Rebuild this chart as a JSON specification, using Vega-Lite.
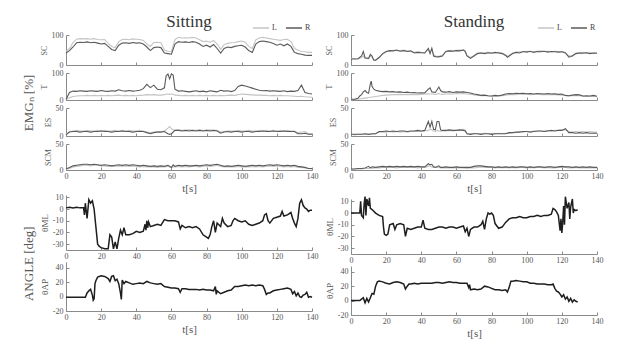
{
"$schema": "https://vega.github.io/schema/vega-lite/v6.json",
"background": "white",
"padding": {"left": 23, "top": 13, "right": 8, "bottom": 4},
"config": {
  "font": "Liberation Serif",
  "view": {"stroke": null},
  "axis": {"domainColor": "#8a8a8a", "tickColor": "#8a8a8a", "labelColor": "#555", "titleColor": "#555", "labelFontSize": 8, "titleFontSize": 8, "titleFontWeight": "normal", "grid": false, "tickSize": -3, "titlePadding": 3, "labelFont": "Liberation Serif", "titleFont": "Liberation Serif"},
  "axisX": {"labelOverlap": false, "labelFlush": false, "labelPadding": 5},
  "axisY": {"labelPadding": 6},
  "title": {"font": "Liberation Serif", "fontWeight": "normal", "color": "#444"},
  "legend": {"direction": "horizontal", "orient": "none", "legendX": 186, "legendY": -16, "symbolType": "stroke", "symbolSize": 260, "symbolStrokeWidth": 1.5, "labelFontSize": 8, "labelFont": "Liberation Serif", "labelColor": "#444", "labelOffset": 2, "columnPadding": 5, "padding": 0, "title": null}
},
"datasets": {
"sitSC": [{"t":0,"L":45,"R":40},{"t":2,"L":55,"R":48},{"t":4,"L":75,"R":60},{"t":6,"L":86,"R":74},{"t":8,"L":88,"R":76},{"t":10,"L":87,"R":75},{"t":12,"L":88,"R":77},{"t":14,"L":86,"R":74},{"t":16,"L":88,"R":76},{"t":18,"L":85,"R":73},{"t":20,"L":84,"R":70},{"t":22,"L":85,"R":72},{"t":24,"L":72,"R":62},{"t":26,"L":62,"R":52},{"t":28,"L":58,"R":48},{"t":30,"L":78,"R":66},{"t":32,"L":85,"R":73},{"t":34,"L":86,"R":74},{"t":36,"L":84,"R":72},{"t":38,"L":87,"R":75},{"t":40,"L":86,"R":73},{"t":42,"L":85,"R":74},{"t":44,"L":82,"R":70},{"t":46,"L":70,"R":60},{"t":48,"L":62,"R":48},{"t":50,"L":75,"R":58},{"t":52,"L":76,"R":60},{"t":54,"L":74,"R":58},{"t":56,"L":50,"R":40},{"t":58,"L":46,"R":38},{"t":60,"L":45,"R":36},{"t":62,"L":85,"R":70},{"t":64,"L":92,"R":78},{"t":66,"L":90,"R":76},{"t":68,"L":91,"R":77},{"t":70,"L":90,"R":75},{"t":72,"L":92,"R":78},{"t":74,"L":90,"R":76},{"t":76,"L":84,"R":70},{"t":78,"L":78,"R":62},{"t":80,"L":80,"R":66},{"t":82,"L":76,"R":60},{"t":84,"L":82,"R":68},{"t":86,"L":70,"R":55},{"t":88,"L":52,"R":40},{"t":90,"L":68,"R":55},{"t":92,"L":72,"R":60},{"t":94,"L":74,"R":58},{"t":96,"L":75,"R":62},{"t":98,"L":78,"R":64},{"t":100,"L":80,"R":66},{"t":102,"L":76,"R":60},{"t":104,"L":62,"R":48},{"t":106,"L":55,"R":42},{"t":108,"L":84,"R":70},{"t":110,"L":90,"R":78},{"t":112,"L":92,"R":80},{"t":114,"L":90,"R":78},{"t":116,"L":88,"R":76},{"t":118,"L":86,"R":72},{"t":120,"L":84,"R":66},{"t":122,"L":82,"R":70},{"t":124,"L":85,"R":64},{"t":126,"L":86,"R":70},{"t":128,"L":78,"R":62},{"t":130,"L":55,"R":42},{"t":132,"L":50,"R":38},{"t":134,"L":45,"R":36},{"t":136,"L":44,"R":33},{"t":138,"L":42,"R":32},{"t":140,"L":42,"R":32}],
"sitT": [{"t":0,"L":1,"R":2},{"t":2,"L":8,"R":28},{"t":4,"L":13,"R":33},{"t":6,"L":15,"R":32},{"t":8,"L":16,"R":34},{"t":10,"L":16,"R":33},{"t":12,"L":17,"R":32},{"t":14,"L":16,"R":34},{"t":16,"L":17,"R":33},{"t":18,"L":16,"R":32},{"t":20,"L":17,"R":35},{"t":22,"L":16,"R":33},{"t":24,"L":17,"R":32},{"t":26,"L":16,"R":34},{"t":28,"L":17,"R":33},{"t":30,"L":18,"R":38},{"t":32,"L":16,"R":34},{"t":34,"L":17,"R":33},{"t":36,"L":16,"R":35},{"t":38,"L":17,"R":33},{"t":40,"L":16,"R":34},{"t":42,"L":17,"R":36},{"t":44,"L":18,"R":42},{"t":46,"L":20,"R":58},{"t":48,"L":19,"R":46},{"t":50,"L":20,"R":55},{"t":52,"L":18,"R":40},{"t":54,"L":18,"R":38},{"t":56,"L":20,"R":45},{"t":57,"L":21,"R":90},{"t":58,"L":22,"R":96},{"t":59,"L":21,"R":78},{"t":60,"L":22,"R":97},{"t":61,"L":21,"R":92},{"t":62,"L":18,"R":40},{"t":64,"L":17,"R":33},{"t":66,"L":16,"R":34},{"t":68,"L":17,"R":32},{"t":70,"L":16,"R":30},{"t":72,"L":17,"R":32},{"t":74,"L":16,"R":34},{"t":76,"L":17,"R":31},{"t":78,"L":16,"R":33},{"t":80,"L":17,"R":30},{"t":82,"L":16,"R":34},{"t":84,"L":17,"R":32},{"t":86,"L":16,"R":30},{"t":88,"L":17,"R":36},{"t":90,"L":16,"R":33},{"t":92,"L":17,"R":34},{"t":94,"L":18,"R":31},{"t":96,"L":17,"R":35},{"t":98,"L":20,"R":50},{"t":100,"L":22,"R":55},{"t":102,"L":21,"R":52},{"t":104,"L":20,"R":48},{"t":106,"L":19,"R":44},{"t":108,"L":18,"R":40},{"t":110,"L":18,"R":36},{"t":112,"L":17,"R":34},{"t":114,"L":17,"R":35},{"t":116,"L":16,"R":33},{"t":118,"L":17,"R":34},{"t":120,"L":16,"R":33},{"t":122,"L":17,"R":32},{"t":124,"L":16,"R":34},{"t":126,"L":16,"R":31},{"t":128,"L":15,"R":33},{"t":130,"L":14,"R":32},{"t":132,"L":13,"R":35},{"t":134,"L":14,"R":55},{"t":136,"L":12,"R":28},{"t":138,"L":11,"R":24},{"t":140,"L":10,"R":22}],
"sitES": [{"t":0,"L":3,"R":2},{"t":2,"L":8,"R":7},{"t":4,"L":9,"R":8},{"t":6,"L":10,"R":8},{"t":8,"L":9,"R":7},{"t":10,"L":9,"R":8},{"t":12,"L":10,"R":8},{"t":14,"L":9,"R":7},{"t":16,"L":9,"R":8},{"t":18,"L":10,"R":8},{"t":20,"L":9,"R":9},{"t":22,"L":10,"R":8},{"t":24,"L":9,"R":8},{"t":26,"L":9,"R":7},{"t":28,"L":10,"R":8},{"t":30,"L":9,"R":8},{"t":32,"L":10,"R":9},{"t":34,"L":9,"R":8},{"t":36,"L":10,"R":8},{"t":38,"L":9,"R":7},{"t":40,"L":9,"R":8},{"t":42,"L":10,"R":8},{"t":44,"L":9,"R":8},{"t":46,"L":7,"R":6},{"t":48,"L":6,"R":4},{"t":50,"L":7,"R":6},{"t":52,"L":8,"R":7},{"t":54,"L":8,"R":7},{"t":56,"L":9,"R":8},{"t":58,"L":14,"R":4},{"t":59,"L":17,"R":3},{"t":60,"L":13,"R":4},{"t":62,"L":10,"R":10},{"t":64,"L":11,"R":10},{"t":66,"L":10,"R":9},{"t":68,"L":10,"R":10},{"t":70,"L":11,"R":9},{"t":72,"L":10,"R":10},{"t":74,"L":10,"R":9},{"t":76,"L":11,"R":10},{"t":78,"L":10,"R":9},{"t":80,"L":10,"R":10},{"t":82,"L":11,"R":9},{"t":84,"L":10,"R":10},{"t":86,"L":10,"R":9},{"t":88,"L":7,"R":5},{"t":90,"L":8,"R":7},{"t":92,"L":9,"R":8},{"t":94,"L":9,"R":7},{"t":96,"L":9,"R":8},{"t":98,"L":10,"R":8},{"t":100,"L":9,"R":7},{"t":102,"L":9,"R":8},{"t":104,"L":10,"R":8},{"t":106,"L":9,"R":7},{"t":108,"L":9,"R":8},{"t":110,"L":10,"R":8},{"t":112,"L":9,"R":9},{"t":114,"L":10,"R":8},{"t":116,"L":9,"R":8},{"t":118,"L":10,"R":9},{"t":120,"L":9,"R":8},{"t":122,"L":10,"R":8},{"t":124,"L":9,"R":9},{"t":126,"L":10,"R":8},{"t":128,"L":9,"R":8},{"t":130,"L":9,"R":8},{"t":132,"L":6,"R":4},{"t":134,"L":7,"R":4},{"t":136,"L":8,"R":5},{"t":138,"L":4,"R":3},{"t":140,"L":4,"R":3}],
"sitSCM": [{"t":0,"L":1,"R":2},{"t":2,"L":3,"R":5},{"t":4,"L":6,"R":8},{"t":6,"L":7,"R":9},{"t":8,"L":8,"R":10},{"t":10,"L":9,"R":11},{"t":12,"L":9,"R":11},{"t":14,"L":8,"R":10},{"t":16,"L":9,"R":11},{"t":18,"L":9,"R":10},{"t":20,"L":8,"R":9},{"t":22,"L":8,"R":10},{"t":24,"L":7,"R":9},{"t":26,"L":7,"R":8},{"t":28,"L":7,"R":9},{"t":30,"L":8,"R":10},{"t":32,"L":7,"R":9},{"t":34,"L":8,"R":10},{"t":36,"L":7,"R":9},{"t":38,"L":8,"R":10},{"t":40,"L":7,"R":9},{"t":42,"L":6,"R":8},{"t":44,"L":7,"R":9},{"t":46,"L":6,"R":8},{"t":48,"L":6,"R":7},{"t":50,"L":6,"R":8},{"t":52,"L":5,"R":7},{"t":54,"L":6,"R":8},{"t":56,"L":6,"R":7},{"t":58,"L":7,"R":9},{"t":60,"L":4,"R":5},{"t":61,"L":6,"R":10},{"t":62,"L":6,"R":7},{"t":64,"L":7,"R":9},{"t":66,"L":6,"R":8},{"t":68,"L":7,"R":9},{"t":70,"L":6,"R":8},{"t":72,"L":7,"R":8},{"t":74,"L":7,"R":9},{"t":76,"L":6,"R":8},{"t":78,"L":7,"R":9},{"t":80,"L":8,"R":10},{"t":82,"L":7,"R":9},{"t":84,"L":8,"R":10},{"t":86,"L":9,"R":11},{"t":88,"L":7,"R":9},{"t":90,"L":6,"R":7},{"t":92,"L":6,"R":8},{"t":94,"L":6,"R":7},{"t":96,"L":6,"R":8},{"t":98,"L":7,"R":9},{"t":100,"L":6,"R":8},{"t":102,"L":6,"R":7},{"t":104,"L":6,"R":8},{"t":106,"L":7,"R":9},{"t":108,"L":6,"R":8},{"t":110,"L":7,"R":9},{"t":112,"L":6,"R":8},{"t":114,"L":7,"R":9},{"t":116,"L":8,"R":10},{"t":118,"L":7,"R":9},{"t":120,"L":8,"R":10},{"t":122,"L":7,"R":9},{"t":124,"L":6,"R":8},{"t":126,"L":7,"R":9},{"t":128,"L":6,"R":8},{"t":130,"L":7,"R":9},{"t":132,"L":5,"R":7},{"t":134,"L":5,"R":6},{"t":136,"L":4,"R":5},{"t":138,"L":3,"R":3},{"t":140,"L":2,"R":3}],
"stSC": [{"t":0,"L":22,"R":20},{"t":2,"L":21,"R":20},{"t":4,"L":20,"R":21},{"t":6,"L":25,"R":30},{"t":7,"L":30,"R":45},{"t":8,"L":22,"R":24},{"t":10,"L":21,"R":22},{"t":11,"L":30,"R":35},{"t":12,"L":25,"R":30},{"t":13,"L":16,"R":16},{"t":14,"L":17,"R":16},{"t":16,"L":25,"R":25},{"t":18,"L":36,"R":38},{"t":20,"L":44,"R":45},{"t":22,"L":46,"R":48},{"t":24,"L":49,"R":47},{"t":26,"L":48,"R":50},{"t":28,"L":48,"R":46},{"t":30,"L":50,"R":48},{"t":32,"L":47,"R":45},{"t":34,"L":45,"R":47},{"t":36,"L":42,"R":40},{"t":38,"L":44,"R":42},{"t":40,"L":42,"R":41},{"t":42,"L":41,"R":40},{"t":44,"L":52,"R":55},{"t":45,"L":40,"R":38},{"t":46,"L":54,"R":56},{"t":47,"L":35,"R":30},{"t":48,"L":30,"R":28},{"t":50,"L":29,"R":27},{"t":52,"L":32,"R":30},{"t":54,"L":46,"R":45},{"t":56,"L":48,"R":47},{"t":58,"L":48,"R":46},{"t":60,"L":49,"R":48},{"t":62,"L":50,"R":47},{"t":64,"L":51,"R":50},{"t":65,"L":48,"R":45},{"t":66,"L":32,"R":30},{"t":68,"L":25,"R":22},{"t":70,"L":32,"R":30},{"t":72,"L":40,"R":38},{"t":74,"L":41,"R":40},{"t":76,"L":40,"R":38},{"t":78,"L":42,"R":41},{"t":80,"L":41,"R":39},{"t":82,"L":40,"R":42},{"t":84,"L":42,"R":40},{"t":86,"L":40,"R":38},{"t":88,"L":34,"R":32},{"t":89,"L":29,"R":26},{"t":90,"L":32,"R":30},{"t":92,"L":40,"R":38},{"t":94,"L":43,"R":42},{"t":96,"L":44,"R":40},{"t":98,"L":44,"R":45},{"t":100,"L":46,"R":43},{"t":102,"L":44,"R":46},{"t":104,"L":45,"R":42},{"t":106,"L":46,"R":45},{"t":108,"L":47,"R":44},{"t":110,"L":45,"R":46},{"t":112,"L":46,"R":43},{"t":114,"L":44,"R":45},{"t":116,"L":46,"R":44},{"t":118,"L":45,"R":43},{"t":120,"L":45,"R":44},{"t":122,"L":42,"R":40},{"t":124,"L":30,"R":26},{"t":126,"L":32,"R":30},{"t":128,"L":40,"R":38},{"t":130,"L":41,"R":40},{"t":132,"L":42,"R":39},{"t":134,"L":40,"R":41},{"t":136,"L":41,"R":38},{"t":138,"L":39,"R":40},{"t":140,"L":41,"R":39}],
"stT": [{"t":0,"L":2,"R":3},{"t":2,"L":2,"R":3},{"t":4,"L":3,"R":6},{"t":5,"L":4,"R":15},{"t":6,"L":5,"R":20},{"t":7,"L":6,"R":30},{"t":8,"L":7,"R":35},{"t":9,"L":8,"R":28},{"t":10,"L":9,"R":25},{"t":11,"L":10,"R":60},{"t":11.5,"L":10,"R":70},{"t":12,"L":11,"R":50},{"t":13,"L":12,"R":40},{"t":14,"L":13,"R":36},{"t":16,"L":15,"R":33},{"t":18,"L":17,"R":31},{"t":20,"L":18,"R":32},{"t":22,"L":19,"R":30},{"t":24,"L":20,"R":31},{"t":26,"L":20,"R":29},{"t":28,"L":21,"R":30},{"t":30,"L":20,"R":28},{"t":32,"L":21,"R":29},{"t":34,"L":20,"R":27},{"t":36,"L":21,"R":28},{"t":38,"L":20,"R":26},{"t":40,"L":21,"R":27},{"t":42,"L":22,"R":26},{"t":44,"L":23,"R":40},{"t":45,"L":22,"R":45},{"t":46,"L":22,"R":30},{"t":48,"L":21,"R":28},{"t":50,"L":24,"R":48},{"t":51,"L":22,"R":35},{"t":52,"L":21,"R":30},{"t":54,"L":22,"R":29},{"t":56,"L":23,"R":31},{"t":58,"L":22,"R":28},{"t":60,"L":24,"R":30},{"t":62,"L":23,"R":29},{"t":64,"L":24,"R":30},{"t":66,"L":22,"R":28},{"t":68,"L":21,"R":26},{"t":70,"L":19,"R":22},{"t":72,"L":18,"R":20},{"t":74,"L":16,"R":17},{"t":76,"L":17,"R":18},{"t":78,"L":15,"R":16},{"t":80,"L":14,"R":15},{"t":82,"L":15,"R":17},{"t":84,"L":14,"R":16},{"t":86,"L":16,"R":18},{"t":88,"L":18,"R":22},{"t":90,"L":20,"R":24},{"t":92,"L":21,"R":23},{"t":94,"L":20,"R":25},{"t":96,"L":22,"R":24},{"t":98,"L":21,"R":25},{"t":100,"L":22,"R":23},{"t":102,"L":20,"R":24},{"t":104,"L":21,"R":22},{"t":106,"L":22,"R":24},{"t":108,"L":20,"R":23},{"t":110,"L":21,"R":22},{"t":112,"L":20,"R":24},{"t":114,"L":21,"R":22},{"t":116,"L":20,"R":23},{"t":118,"L":19,"R":21},{"t":120,"L":18,"R":22},{"t":122,"L":16,"R":17},{"t":124,"L":15,"R":16},{"t":126,"L":16,"R":18},{"t":128,"L":17,"R":20},{"t":130,"L":16,"R":19},{"t":132,"L":14,"R":15},{"t":134,"L":13,"R":16},{"t":136,"L":14,"R":15},{"t":138,"L":13,"R":17},{"t":140,"L":12,"R":14}],
"stES": [{"t":0,"L":3,"R":3},{"t":2,"L":2,"R":3},{"t":4,"L":3,"R":3},{"t":6,"L":3,"R":3},{"t":8,"L":3,"R":4},{"t":10,"L":3,"R":3},{"t":12,"L":3,"R":4},{"t":14,"L":4,"R":4},{"t":16,"L":7,"R":8},{"t":18,"L":7,"R":8},{"t":20,"L":7,"R":9},{"t":22,"L":8,"R":8},{"t":24,"L":7,"R":9},{"t":26,"L":8,"R":8},{"t":28,"L":7,"R":9},{"t":30,"L":8,"R":9},{"t":32,"L":7,"R":8},{"t":34,"L":8,"R":9},{"t":36,"L":8,"R":9},{"t":38,"L":8,"R":10},{"t":40,"L":8,"R":9},{"t":42,"L":9,"R":10},{"t":44,"L":10,"R":26},{"t":45,"L":12,"R":16},{"t":46,"L":11,"R":26},{"t":47,"L":9,"R":12},{"t":48,"L":8,"R":11},{"t":49,"L":10,"R":26},{"t":50,"L":9,"R":26},{"t":51,"L":8,"R":11},{"t":52,"L":9,"R":10},{"t":54,"L":9,"R":10},{"t":56,"L":10,"R":11},{"t":58,"L":9,"R":10},{"t":60,"L":10,"R":10},{"t":62,"L":10,"R":11},{"t":64,"L":12,"R":10},{"t":65,"L":11,"R":9},{"t":66,"L":5,"R":4},{"t":68,"L":4,"R":3},{"t":70,"L":5,"R":4},{"t":72,"L":4,"R":4},{"t":74,"L":4,"R":3},{"t":76,"L":5,"R":4},{"t":78,"L":4,"R":4},{"t":80,"L":5,"R":3},{"t":82,"L":4,"R":4},{"t":84,"L":5,"R":4},{"t":86,"L":4,"R":4},{"t":88,"L":5,"R":4},{"t":90,"L":5,"R":6},{"t":92,"L":6,"R":6},{"t":94,"L":6,"R":7},{"t":96,"L":8,"R":7},{"t":98,"L":7,"R":8},{"t":100,"L":8,"R":8},{"t":102,"L":8,"R":7},{"t":104,"L":9,"R":8},{"t":106,"L":8,"R":9},{"t":108,"L":9,"R":9},{"t":110,"L":9,"R":8},{"t":112,"L":10,"R":9},{"t":114,"L":9,"R":10},{"t":116,"L":10,"R":9},{"t":118,"L":10,"R":10},{"t":120,"L":11,"R":10},{"t":122,"L":11,"R":13},{"t":124,"L":8,"R":6},{"t":126,"L":7,"R":6},{"t":128,"L":8,"R":5},{"t":130,"L":7,"R":6},{"t":132,"L":8,"R":5},{"t":134,"L":7,"R":6},{"t":136,"L":8,"R":5},{"t":138,"L":7,"R":5},{"t":140,"L":7,"R":5}],
"stSCM": [{"t":0,"L":1,"R":2},{"t":2,"L":2,"R":2},{"t":4,"L":2,"R":3},{"t":6,"L":2,"R":3},{"t":8,"L":3,"R":4},{"t":10,"L":3,"R":7},{"t":11,"L":4,"R":4},{"t":12,"L":3,"R":6},{"t":14,"L":4,"R":5},{"t":16,"L":4,"R":6},{"t":18,"L":5,"R":7},{"t":20,"L":5,"R":6},{"t":22,"L":5,"R":7},{"t":24,"L":5,"R":6},{"t":26,"L":4,"R":7},{"t":28,"L":5,"R":6},{"t":30,"L":5,"R":7},{"t":32,"L":5,"R":6},{"t":34,"L":5,"R":7},{"t":36,"L":5,"R":6},{"t":38,"L":4,"R":7},{"t":40,"L":5,"R":6},{"t":42,"L":5,"R":6},{"t":44,"L":7,"R":12},{"t":45,"L":8,"R":10},{"t":46,"L":6,"R":11},{"t":47,"L":5,"R":6},{"t":48,"L":5,"R":5},{"t":50,"L":5,"R":8},{"t":51,"L":4,"R":5},{"t":52,"L":4,"R":5},{"t":54,"L":4,"R":6},{"t":56,"L":4,"R":5},{"t":58,"L":4,"R":5},{"t":60,"L":4,"R":6},{"t":62,"L":4,"R":5},{"t":64,"L":4,"R":5},{"t":66,"L":3,"R":5},{"t":68,"L":4,"R":5},{"t":70,"L":4,"R":7},{"t":72,"L":5,"R":8},{"t":74,"L":6,"R":8},{"t":76,"L":5,"R":7},{"t":78,"L":5,"R":6},{"t":80,"L":5,"R":6},{"t":82,"L":4,"R":5},{"t":84,"L":5,"R":6},{"t":86,"L":4,"R":5},{"t":88,"L":5,"R":6},{"t":90,"L":4,"R":5},{"t":92,"L":5,"R":6},{"t":94,"L":4,"R":5},{"t":96,"L":5,"R":6},{"t":98,"L":5,"R":6},{"t":100,"L":4,"R":5},{"t":102,"L":5,"R":6},{"t":104,"L":4,"R":5},{"t":106,"L":5,"R":6},{"t":108,"L":5,"R":6},{"t":110,"L":4,"R":5},{"t":112,"L":5,"R":6},{"t":114,"L":4,"R":6},{"t":116,"L":4,"R":5},{"t":118,"L":5,"R":6},{"t":120,"L":5,"R":7},{"t":122,"L":5,"R":6},{"t":124,"L":4,"R":6},{"t":126,"L":4,"R":5},{"t":128,"L":5,"R":6},{"t":130,"L":4,"R":5},{"t":132,"L":4,"R":6},{"t":134,"L":4,"R":5},{"t":136,"L":4,"R":6},{"t":138,"L":4,"R":5},{"t":140,"L":4,"R":5}],
"sitML": [{"t":0,"v":1},{"t":2,"v":1.5},{"t":4,"v":1},{"t":6,"v":1.5},{"t":8,"v":1},{"t":10,"v":1},{"t":10.5,"v":-5},{"t":11,"v":5},{"t":12,"v":-8},{"t":13,"v":8},{"t":14,"v":5},{"t":15,"v":7},{"t":16,"v":0},{"t":17,"v":-15},{"t":18,"v":-30},{"t":19,"v":-32},{"t":20,"v":-33},{"t":22,"v":-34},{"t":24,"v":-34},{"t":25,"v":-22},{"t":26,"v":-24},{"t":27,"v":-34},{"t":28,"v":-28},{"t":29,"v":-34},{"t":30,"v":-25},{"t":31,"v":-18},{"t":32,"v":-22},{"t":33,"v":-16},{"t":34,"v":-22},{"t":36,"v":-22},{"t":38,"v":-21},{"t":40,"v":-19},{"t":42,"v":-20},{"t":44,"v":-19},{"t":45,"v":-13},{"t":45.5,"v":-18},{"t":46,"v":-10},{"t":46.5,"v":-16},{"t":47,"v":-11},{"t":48,"v":-15},{"t":50,"v":-14},{"t":52,"v":-13},{"t":54,"v":-14},{"t":56,"v":-9},{"t":58,"v":-10},{"t":60,"v":-10},{"t":62,"v":-10},{"t":64,"v":-11},{"t":65,"v":-17},{"t":66,"v":-14},{"t":68,"v":-16},{"t":70,"v":-15},{"t":72,"v":-16},{"t":74,"v":-15},{"t":76,"v":-17},{"t":78,"v":-22},{"t":80,"v":-24},{"t":81,"v":-25},{"t":82,"v":-22},{"t":83,"v":-15},{"t":84,"v":-10},{"t":85,"v":-20},{"t":86,"v":-12},{"t":88,"v":-15},{"t":89,"v":-8},{"t":90,"v":-12},{"t":92,"v":-15},{"t":94,"v":-14},{"t":95,"v":-10},{"t":96,"v":-8},{"t":98,"v":-10},{"t":100,"v":-11},{"t":102,"v":-10},{"t":104,"v":-13},{"t":106,"v":-14},{"t":108,"v":-13},{"t":110,"v":-12},{"t":112,"v":-10},{"t":113,"v":-5},{"t":114,"v":-4},{"t":115,"v":-10},{"t":116,"v":-12},{"t":118,"v":-8},{"t":120,"v":-7},{"t":122,"v":-6},{"t":123,"v":-2},{"t":124,"v":-6},{"t":126,"v":-5},{"t":128,"v":-3},{"t":129,"v":-8},{"t":130,"v":-12},{"t":131,"v":-15},{"t":132,"v":-8},{"t":133,"v":5},{"t":134,"v":8},{"t":135,"v":3},{"t":136,"v":1},{"t":137,"v":0},{"t":138,"v":-2},{"t":139,"v":-1},{"t":140,"v":-1}],
"sitAP": [{"t":0,"v":-1},{"t":4,"v":-1},{"t":8,"v":-1},{"t":11,"v":-1},{"t":12,"v":5},{"t":13,"v":8},{"t":14,"v":10},{"t":15,"v":2},{"t":15.5,"v":-5},{"t":16,"v":-3},{"t":16.5,"v":18},{"t":17,"v":22},{"t":18,"v":27},{"t":20,"v":29},{"t":22,"v":28},{"t":24,"v":25},{"t":25,"v":21},{"t":26,"v":28},{"t":27,"v":29},{"t":28,"v":22},{"t":29,"v":24},{"t":30,"v":18},{"t":31,"v":5},{"t":31.5,"v":-4},{"t":32,"v":23},{"t":33,"v":18},{"t":34,"v":21},{"t":36,"v":19},{"t":38,"v":17},{"t":40,"v":18},{"t":42,"v":19},{"t":44,"v":18},{"t":46,"v":21},{"t":48,"v":19},{"t":50,"v":18},{"t":52,"v":17},{"t":54,"v":18},{"t":56,"v":14},{"t":58,"v":13},{"t":60,"v":12},{"t":62,"v":12},{"t":64,"v":11},{"t":65,"v":6},{"t":66,"v":11},{"t":68,"v":11},{"t":70,"v":10},{"t":72,"v":10},{"t":74,"v":10},{"t":76,"v":9},{"t":78,"v":10},{"t":80,"v":9},{"t":82,"v":9},{"t":84,"v":8},{"t":85,"v":14},{"t":85.5,"v":3},{"t":86,"v":8},{"t":88,"v":4},{"t":90,"v":6},{"t":92,"v":8},{"t":94,"v":9},{"t":96,"v":14},{"t":98,"v":14},{"t":100,"v":15},{"t":102,"v":16},{"t":104,"v":15},{"t":106,"v":16},{"t":108,"v":15},{"t":110,"v":16},{"t":112,"v":15},{"t":113,"v":10},{"t":114,"v":3},{"t":115,"v":5},{"t":116,"v":5},{"t":118,"v":8},{"t":120,"v":9},{"t":122,"v":10},{"t":124,"v":11},{"t":126,"v":12},{"t":128,"v":10},{"t":129,"v":4},{"t":130,"v":7},{"t":131,"v":1},{"t":132,"v":5},{"t":133,"v":0},{"t":134,"v":-1},{"t":135,"v":2},{"t":136,"v":3},{"t":137,"v":6},{"t":138,"v":-1},{"t":139,"v":0},{"t":140,"v":-1}],
"stML": [{"t":0,"v":0},{"t":5,"v":0},{"t":5.5,"v":10},{"t":6,"v":-2},{"t":7,"v":-4},{"t":7.5,"v":8},{"t":8,"v":14},{"t":8.5,"v":-2},{"t":9,"v":12},{"t":10,"v":6},{"t":10.5,"v":13},{"t":11,"v":4},{"t":12,"v":3},{"t":14,"v":0},{"t":16,"v":-2},{"t":18,"v":-3},{"t":18.5,"v":-12},{"t":19,"v":-18},{"t":20,"v":-19},{"t":21,"v":-18},{"t":22,"v":-10},{"t":24,"v":-9},{"t":25,"v":-14},{"t":26,"v":-10},{"t":28,"v":-9},{"t":30,"v":-10},{"t":31,"v":-20},{"t":32,"v":-13},{"t":34,"v":-14},{"t":36,"v":-13},{"t":38,"v":-12},{"t":40,"v":-12},{"t":41,"v":-6},{"t":42,"v":-13},{"t":44,"v":-14},{"t":46,"v":-14},{"t":48,"v":-13},{"t":50,"v":-12},{"t":52,"v":-12},{"t":54,"v":-13},{"t":56,"v":-12},{"t":58,"v":-12},{"t":60,"v":-13},{"t":62,"v":-12},{"t":64,"v":-11},{"t":65,"v":-16},{"t":66,"v":-13},{"t":67,"v":-20},{"t":68,"v":-14},{"t":70,"v":-12},{"t":72,"v":-12},{"t":74,"v":-10},{"t":75,"v":-7},{"t":76,"v":-14},{"t":77,"v":-5},{"t":78,"v":0},{"t":79,"v":-1},{"t":80,"v":0},{"t":81,"v":-2},{"t":82,"v":-9},{"t":84,"v":-13},{"t":86,"v":-12},{"t":88,"v":-8},{"t":90,"v":-5},{"t":92,"v":-4},{"t":94,"v":-4},{"t":96,"v":-3},{"t":98,"v":-4},{"t":100,"v":-4},{"t":102,"v":-3},{"t":104,"v":-3},{"t":106,"v":-2},{"t":108,"v":-3},{"t":110,"v":-2},{"t":112,"v":-2},{"t":114,"v":-1},{"t":115,"v":4},{"t":116,"v":3},{"t":117,"v":1},{"t":118,"v":-2},{"t":119,"v":-15},{"t":119.5,"v":-5},{"t":120,"v":-17},{"t":120.5,"v":-8},{"t":121,"v":6},{"t":121.5,"v":-10},{"t":122,"v":14},{"t":123,"v":4},{"t":124,"v":9},{"t":124.5,"v":-5},{"t":125,"v":5},{"t":126,"v":12},{"t":126.5,"v":0},{"t":127,"v":3},{"t":128,"v":2},{"t":129,"v":3}],
"stAP": [{"t":0,"v":0},{"t":5,"v":0},{"t":6,"v":2},{"t":7,"v":4},{"t":8,"v":-3},{"t":9,"v":3},{"t":10,"v":-2},{"t":11,"v":4},{"t":12,"v":10},{"t":13,"v":9},{"t":14,"v":20},{"t":15,"v":26},{"t":16,"v":27},{"t":18,"v":26},{"t":20,"v":24},{"t":22,"v":23},{"t":24,"v":25},{"t":26,"v":26},{"t":28,"v":25},{"t":30,"v":23},{"t":31,"v":16},{"t":32,"v":20},{"t":33,"v":23},{"t":34,"v":23},{"t":36,"v":24},{"t":38,"v":23},{"t":40,"v":24},{"t":42,"v":24},{"t":44,"v":24},{"t":46,"v":24},{"t":48,"v":25},{"t":50,"v":25},{"t":52,"v":24},{"t":54,"v":25},{"t":56,"v":26},{"t":58,"v":25},{"t":60,"v":25},{"t":62,"v":24},{"t":64,"v":24},{"t":66,"v":24},{"t":67,"v":18},{"t":67.5,"v":22},{"t":68,"v":15},{"t":70,"v":16},{"t":72,"v":15},{"t":74,"v":16},{"t":76,"v":20},{"t":78,"v":19},{"t":80,"v":17},{"t":82,"v":15},{"t":84,"v":15},{"t":86,"v":14},{"t":88,"v":15},{"t":89,"v":12},{"t":90,"v":18},{"t":91,"v":27},{"t":92,"v":27},{"t":94,"v":28},{"t":96,"v":27},{"t":98,"v":26},{"t":100,"v":26},{"t":102,"v":24},{"t":104,"v":24},{"t":106,"v":23},{"t":108,"v":23},{"t":110,"v":23},{"t":112,"v":22},{"t":114,"v":22},{"t":115,"v":23},{"t":116,"v":17},{"t":117,"v":13},{"t":118,"v":12},{"t":119,"v":9},{"t":120,"v":5},{"t":121,"v":8},{"t":122,"v":2},{"t":123,"v":5},{"t":124,"v":-1},{"t":125,"v":3},{"t":126,"v":-2},{"t":127,"v":1},{"t":128,"v":-1},{"t":129,"v":-2}]
},
"spacing": 7,
"resolve": {"scale": {"color": "independent"}, "legend": {"color": "independent"}},
"hconcat": [
 {
  "spacing": 0,
  "vconcat": [
   {
    "bounds": "flush", "spacing": 8,
    "title": {"text": "EMGₙ [%]", "orient": "left", "anchor": "middle", "fontSize": 13, "offset": 4, "color": "#555"},
    "vconcat": [
     {"width": 246, "height": 30, "data": {"name": "sitSC"},
      "title": {"text": "Sitting", "fontSize": 17, "anchor": "middle", "offset": 5, "dy": 5, "color": "#333"},
      "encoding": {"x": {"field": "t", "type": "quantitative", "scale": {"domain": [0, 140]}, "axis": {"values": [0,20,40,60,80,100,120,140], "labels": false, "title": null}}},
      "layer": [
       {"mark": {"type": "line", "strokeWidth": 1.1}, "encoding": {"y": {"field": "L", "type": "quantitative", "scale": {"domain": [0, 100]}, "axis": {"values": [0,50,100], "title": "SC"}}, "color": {"datum": "L", "type": "nominal", "scale": {"domain": ["L","R"], "range": ["#c4c4c4","#5a5a5a"]}}}},
       {"mark": {"type": "line", "strokeWidth": 1.1}, "encoding": {"y": {"field": "R", "type": "quantitative", "title": "SC"}, "color": {"datum": "R", "type": "nominal"}}}
      ]},
     {"width": 246, "height": 27, "data": {"name": "sitT"},
      "encoding": {"x": {"field": "t", "type": "quantitative", "scale": {"domain": [0, 140]}, "axis": {"values": [0,20,40,60,80,100,120,140], "labels": false, "title": null}}},
      "layer": [
       {"mark": {"type": "line", "strokeWidth": 1.1, "color": "#c4c4c4"}, "encoding": {"y": {"field": "L", "type": "quantitative", "scale": {"domain": [0, 100]}, "axis": {"values": [0,50,100], "title": "T"}}}},
       {"mark": {"type": "line", "strokeWidth": 1.1, "color": "#5a5a5a"}, "encoding": {"y": {"field": "R", "type": "quantitative", "title": "T"}}}
      ]},
     {"width": 246, "height": 28, "data": {"name": "sitES"},
      "encoding": {"x": {"field": "t", "type": "quantitative", "scale": {"domain": [0, 140]}, "axis": {"values": [0,20,40,60,80,100,120,140], "labels": false, "title": null}}},
      "layer": [
       {"mark": {"type": "line", "strokeWidth": 1.1, "color": "#c4c4c4"}, "encoding": {"y": {"field": "L", "type": "quantitative", "scale": {"domain": [0, 50]}, "axis": {"values": [0,50], "title": "ES"}}}},
       {"mark": {"type": "line", "strokeWidth": 1.1, "color": "#5a5a5a"}, "encoding": {"y": {"field": "R", "type": "quantitative", "title": "ES"}}}
      ]},
     {"width": 246, "height": 26, "data": {"name": "sitSCM"},
      "encoding": {"x": {"field": "t", "type": "quantitative", "scale": {"domain": [0, 140]}, "axis": {"values": [0,20,40,60,80,100,120,140], "labelOverlap": false, "title": "t[s]", "titleFontSize": 11, "titlePadding": 2}}},
      "layer": [
       {"mark": {"type": "line", "strokeWidth": 1.1, "color": "#c4c4c4"}, "encoding": {"y": {"field": "L", "type": "quantitative", "scale": {"domain": [0, 50]}, "axis": {"values": [0,50], "title": "SCM"}}}},
       {"mark": {"type": "line", "strokeWidth": 1.1, "color": "#5a5a5a"}, "encoding": {"y": {"field": "R", "type": "quantitative", "title": "SCM"}}}
      ]}
    ]
   },
   {
    "bounds": "flush", "spacing": 12,
    "title": {"text": "ANGLE [deg]", "orient": "left", "anchor": "middle", "fontSize": 13, "offset": 4, "color": "#555"},
    "vconcat": [
     {"width": 246, "height": 55, "data": {"name": "sitML"},
      "mark": {"type": "line", "strokeWidth": 1.5, "color": "#1e1e1e"},
      "encoding": {"x": {"field": "t", "type": "quantitative", "scale": {"domain": [0, 140]}, "axis": {"values": [0,20,40,60,80,100,120,140], "title": null}}, "y": {"field": "v", "type": "quantitative", "scale": {"domain": [-35, 12]}, "axis": {"values": [-30,-20,-10,0,10], "title": "θML", "titleFontSize": 9, "labelExpr": "'' + datum.value"}}}},
     {"width": 246, "height": 49, "data": {"name": "sitAP"},
      "mark": {"type": "line", "strokeWidth": 1.5, "color": "#1e1e1e"},
      "encoding": {"x": {"field": "t", "type": "quantitative", "scale": {"domain": [0, 140]}, "axis": {"values": [0,20,40,60,80,100,120,140], "title": "t[s]", "titleFontSize": 11, "titlePadding": 2}}, "y": {"field": "v", "type": "quantitative", "scale": {"domain": [-20, 48]}, "axis": {"values": [-20,0,20,40], "title": "θAP", "titleFontSize": 9, "labelExpr": "'' + datum.value"}}}}
    ]
   }
  ]
 },
 {
  "spacing": 0,
  "vconcat": [
   {
    "bounds": "flush", "spacing": 8,
    "vconcat": [
     {"width": 246, "height": 30, "data": {"name": "stSC"},
      "title": {"text": "Standing", "fontSize": 17, "anchor": "middle", "offset": 5, "dy": 5, "color": "#333"},
      "encoding": {"x": {"field": "t", "type": "quantitative", "scale": {"domain": [0, 140]}, "axis": {"values": [0,20,40,60,80,100,120,140], "labels": false, "title": null}}},
      "layer": [
       {"mark": {"type": "line", "strokeWidth": 1.1}, "encoding": {"y": {"field": "L", "type": "quantitative", "scale": {"domain": [0, 100]}, "axis": {"values": [0,50,100], "title": "SC"}}, "color": {"datum": "L", "type": "nominal", "scale": {"domain": ["L","R"], "range": ["#c4c4c4","#5a5a5a"]}}}},
       {"mark": {"type": "line", "strokeWidth": 1.1}, "encoding": {"y": {"field": "R", "type": "quantitative", "title": "SC"}, "color": {"datum": "R", "type": "nominal"}}}
      ]},
     {"width": 246, "height": 27, "data": {"name": "stT"},
      "encoding": {"x": {"field": "t", "type": "quantitative", "scale": {"domain": [0, 140]}, "axis": {"values": [0,20,40,60,80,100,120,140], "labels": false, "title": null}}},
      "layer": [
       {"mark": {"type": "line", "strokeWidth": 1.1, "color": "#c4c4c4"}, "encoding": {"y": {"field": "L", "type": "quantitative", "scale": {"domain": [0, 100]}, "axis": {"values": [0,50,100], "title": "T"}}}},
       {"mark": {"type": "line", "strokeWidth": 1.1, "color": "#5a5a5a"}, "encoding": {"y": {"field": "R", "type": "quantitative", "title": "T"}}}
      ]},
     {"width": 246, "height": 28, "data": {"name": "stES"},
      "encoding": {"x": {"field": "t", "type": "quantitative", "scale": {"domain": [0, 140]}, "axis": {"values": [0,20,40,60,80,100,120,140], "labels": false, "title": null}}},
      "layer": [
       {"mark": {"type": "line", "strokeWidth": 1.1, "color": "#c4c4c4"}, "encoding": {"y": {"field": "L", "type": "quantitative", "scale": {"domain": [0, 50]}, "axis": {"values": [0,50], "title": "ES"}}}},
       {"mark": {"type": "line", "strokeWidth": 1.1, "color": "#5a5a5a"}, "encoding": {"y": {"field": "R", "type": "quantitative", "title": "ES"}}}
      ]},
     {"width": 246, "height": 26, "data": {"name": "stSCM"},
      "encoding": {"x": {"field": "t", "type": "quantitative", "scale": {"domain": [0, 140]}, "axis": {"values": [0,20,40,60,80,100,120,140], "labelOverlap": false, "title": "t[s]", "titleFontSize": 11, "titlePadding": 2}}},
      "layer": [
       {"mark": {"type": "line", "strokeWidth": 1.1, "color": "#c4c4c4"}, "encoding": {"y": {"field": "L", "type": "quantitative", "scale": {"domain": [0, 50]}, "axis": {"values": [0,50], "title": "SCM"}}}},
       {"mark": {"type": "line", "strokeWidth": 1.1, "color": "#5a5a5a"}, "encoding": {"y": {"field": "R", "type": "quantitative", "title": "SCM"}}}
      ]}
    ]
   },
   {
    "bounds": "flush", "spacing": 12,
    "vconcat": [
     {"width": 246, "height": 55, "data": {"name": "stML"},
      "mark": {"type": "line", "strokeWidth": 1.5, "color": "#1e1e1e"},
      "encoding": {"x": {"field": "t", "type": "quantitative", "scale": {"domain": [0, 140]}, "axis": {"values": [0,20,40,60,80,100,120,140], "title": null}}, "y": {"field": "v", "type": "quantitative", "scale": {"domain": [-35, 12]}, "axis": {"values": [-30,-20,-10,0,10], "title": "θML", "titleFontSize": 9, "labelExpr": "'' + datum.value"}}}},
     {"width": 246, "height": 49, "data": {"name": "stAP"},
      "mark": {"type": "line", "strokeWidth": 1.5, "color": "#1e1e1e"},
      "encoding": {"x": {"field": "t", "type": "quantitative", "scale": {"domain": [0, 140]}, "axis": {"values": [0,20,40,60,80,100,120,140], "title": "t[s]", "titleFontSize": 11, "titlePadding": 2}}, "y": {"field": "v", "type": "quantitative", "scale": {"domain": [-20, 48]}, "axis": {"values": [-20,0,20,40], "title": "θAP", "titleFontSize": 9, "labelExpr": "'' + datum.value"}}}}
    ]
   }
  ]
 }
]
}
